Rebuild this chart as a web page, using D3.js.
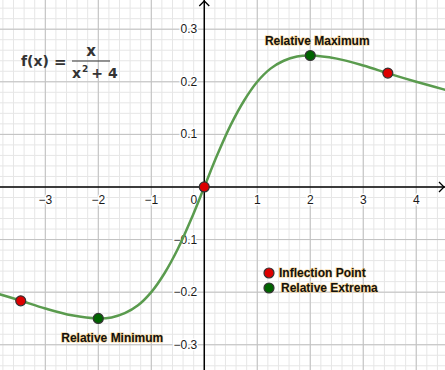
<!DOCTYPE html>
<html>
<head>
<meta charset="utf-8">
<script src="https://cdn.jsdelivr.net/npm/d3@7"></script>
<style>
  body { margin: 0; background: #fff; }
  svg { display: block; font-family: "Liberation Sans", Arial, sans-serif; }
</style>
</head>
<body>
<svg id="chart"></svg>
<script>
const curveX = [-4.5, -4, -3.5, -3, -2.5, -2, -1.75, -1.5, -1.25, -1, -0.75, -0.5, -0.25, 0,
                0.25, 0.5, 0.75, 1, 1.25, 1.5, 1.75, 2, 2.5, 3, 3.5, 4, 4.5, 5];
const curveY = [-0.186, -0.2, -0.215, -0.231, -0.244, -0.25, -0.248, -0.24, -0.225, -0.2, -0.164, -0.118, -0.062, 0,
                0.062, 0.118, 0.164, 0.2, 0.225, 0.24, 0.248, 0.25, 0.244, 0.231, 0.215, 0.2, 0.186, 0.172];

const inflectionX = [-3.464, 0, 3.464];
const inflectionY = [-0.2165, 0, 0.2165];
const extremaX = [-2, 2];
const extremaY = [-0.25, 0.25];

const xTicks = [-4, -3, -2, -1, 1, 2, 3, 4];
const yTicks = [-0.3, -0.2, -0.1, 0.1, 0.2, 0.3];

const svgWidth = 445, svgHeight = 370;

const svg = d3.select("#chart")
  .attr("width", svgWidth)
  .attr("height", svgHeight);

const x = d3.scaleLinear().domain([-3.855, 4.543]).range([0, svgWidth]);
const y = d3.scaleLinear().domain([0.3555, -0.348]).range([0, svgHeight]);

// grid -------------------------------------------------
const grid = svg.append("g");
const minorX = d3.range(-4, 4.61, 0.2);
const minorY = d3.range(-0.36, 0.361, 0.02);

grid.selectAll(".mx").data(minorX).join("line")
  .attr("x1", d => x(d)).attr("x2", d => x(d))
  .attr("y1", 0).attr("y2", svgHeight)
  .attr("stroke", "#e6e6e6").attr("stroke-width", 1);
grid.selectAll(".my").data(minorY).join("line")
  .attr("y1", d => y(d)).attr("y2", d => y(d))
  .attr("x1", 0).attr("x2", svgWidth)
  .attr("stroke", "#e6e6e6").attr("stroke-width", 1);

grid.selectAll(".Mx").data(xTicks).join("line")
  .attr("x1", d => x(d)).attr("x2", d => x(d))
  .attr("y1", 0).attr("y2", svgHeight)
  .attr("stroke", "#c0c0c0").attr("stroke-width", 1);
grid.selectAll(".My").data(yTicks).join("line")
  .attr("y1", d => y(d)).attr("y2", d => y(d))
  .attr("x1", 0).attr("x2", svgWidth)
  .attr("stroke", "#c0c0c0").attr("stroke-width", 1);

// axes -------------------------------------------------
svg.append("line")
  .attr("x1", 0).attr("x2", svgWidth)
  .attr("y1", y(0)).attr("y2", y(0))
  .attr("stroke", "#000").attr("stroke-width", 1.5);
svg.append("line")
  .attr("x1", x(0)).attr("x2", x(0))
  .attr("y1", 0).attr("y2", svgHeight)
  .attr("stroke", "#000").attr("stroke-width", 1.5);
// arrow heads
svg.append("path")
  .attr("d", `M${x(0) - 5},${6} L${x(0)},${1} L${x(0) + 5},${6}`)
  .attr("fill", "none").attr("stroke", "#000").attr("stroke-width", 1.3);
svg.append("path")
  .attr("d", `M${svgWidth - 6},${y(0) - 5} L${svgWidth - 1},${y(0)} L${svgWidth - 6},${y(0) + 5}`)
  .attr("fill", "none").attr("stroke", "#000").attr("stroke-width", 1.3);

const fmt = v => d3.format("")(v).replace("-", "\u2212");

const labels = svg.append("g")
  .attr("font-size", 12)
  .attr("fill", "#1a1a1a")
  .attr("stroke", "#fff").attr("stroke-width", 3)
  .attr("paint-order", "stroke");

labels.selectAll(".xl").data(xTicks).join("text")
  .attr("x", d => x(d)).attr("y", y(0) + 17)
  .attr("text-anchor", "middle")
  .text(fmt);
labels.selectAll(".yl").data(yTicks).join("text")
  .attr("x", x(0) - 7).attr("y", d => y(d) + 4)
  .attr("text-anchor", "end")
  .text(fmt);
labels.append("text")
  .attr("x", x(0) - 7).attr("y", y(0) + 17)
  .attr("text-anchor", "end")
  .text("0");

// curve ------------------------------------------------
const pts = curveX.map((d, i) => [d, curveY[i]]);
const line = d3.line()
  .x(d => x(d[0]))
  .y(d => y(d[1]))
  .curve(d3.curveCatmullRom.alpha(0.5));

svg.append("path")
  .datum(pts)
  .attr("fill", "none")
  .attr("stroke", "#5a9b4e")
  .attr("stroke-width", 2.5)
  .attr("stroke-linejoin", "round")
  .attr("d", line);

// points -----------------------------------------------
svg.selectAll(".ip").data(inflectionX).join("circle")
  .attr("cx", d => x(d)).attr("cy", (d, i) => y(inflectionY[i]))
  .attr("r", 5)
  .attr("fill", "#dd0000").attr("stroke", "#333").attr("stroke-width", 1.2);
svg.selectAll(".ep").data(extremaX).join("circle")
  .attr("cx", d => x(d)).attr("cy", (d, i) => y(extremaY[i]))
  .attr("r", 5)
  .attr("fill", "#006400").attr("stroke", "#333").attr("stroke-width", 1.2);

// annotations ------------------------------------------
const ann = svg.append("g")
  .attr("font-size", 12)
  .attr("font-weight", "bold")
  .attr("fill", "#111")
  .attr("stroke", "#f6d08a").attr("stroke-width", 1.2)
  .attr("paint-order", "stroke");

ann.append("text").attr("x", x(2) + 7).attr("y", 45)
  .attr("text-anchor", "middle").text("Relative Maximum");
ann.append("text").attr("x", x(-2) + 14).attr("y", 342)
  .attr("text-anchor", "middle").text("Relative Minimum");

// legend
svg.append("circle").attr("cx", 269).attr("cy", 273).attr("r", 5)
  .attr("fill", "#dd0000").attr("stroke", "#333").attr("stroke-width", 1.2);
svg.append("circle").attr("cx", 269).attr("cy", 288).attr("r", 5)
  .attr("fill", "#006400").attr("stroke", "#333").attr("stroke-width", 1.2);
ann.append("text").attr("x", 279).attr("y", 277).text("Inflection Point");
ann.append("text").attr("x", 281).attr("y", 292).text("Relative Extrema");

// formula
const fg = svg.append("g")
  .attr("font-size", 15)
  .attr("font-weight", "bold")
  .attr("fill", "#333")
  .attr("font-family", "'DejaVu Sans', sans-serif");
fg.append("text").attr("x", 21).attr("y", 66).attr("font-size", 14).text("f(x)");
fg.append("text").attr("x", 54).attr("y", 67).text("=");
fg.append("text").attr("x", 91).attr("y", 56).attr("text-anchor", "middle").text("x");
fg.append("line").attr("x1", 72).attr("x2", 110).attr("y1", 61).attr("y2", 61)
  .attr("stroke", "#333").attr("stroke-width", 1.2);
const den = fg.append("text").attr("x", 72).attr("y", 78).attr("font-size", 14);
den.append("tspan").text("x");
den.append("tspan").attr("font-size", 9).attr("dy", -6).attr("dx", 1).text("2");
den.append("tspan").attr("dy", 6).attr("dx", 3).text("+ 4");
</script>
</body>
</html>
